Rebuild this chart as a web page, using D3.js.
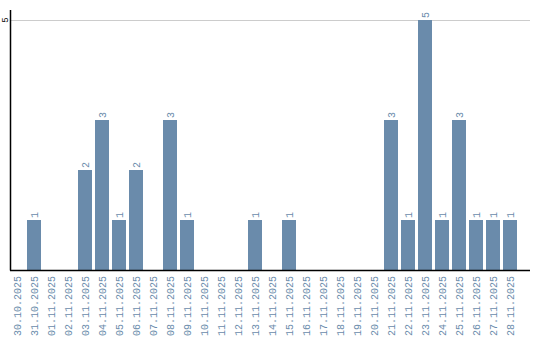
<!DOCTYPE html>
<html>
<head>
<meta charset="utf-8">
<script src="https://cdn.jsdelivr.net/npm/d3@7"></script>
<style>
  body { margin: 0; background: #fff; }
  svg text { font-family: "Liberation Mono", "DejaVu Sans Mono", monospace; }
</style>
</head>
<body>
<div id="chart"></div>
<script>
var width = 540, height = 340;

var days = ["30.10.2025","31.10.2025","01.11.2025","02.11.2025","03.11.2025","04.11.2025",
    "05.11.2025","06.11.2025","07.11.2025","08.11.2025","09.11.2025","10.11.2025",
    "11.11.2025","12.11.2025","13.11.2025","14.11.2025","15.11.2025","16.11.2025",
    "17.11.2025","18.11.2025","19.11.2025","20.11.2025","21.11.2025","22.11.2025",
    "23.11.2025","24.11.2025","25.11.2025","26.11.2025","27.11.2025","28.11.2025"];
var counts = [0,1,0,0,2,3,1,2,0,3,1,0,0,0,1,0,1,0,0,0,0,0,3,1,5,1,3,1,1,1];
var yTicks = [5];

var barColor = '#6a8bab';

var svg = d3.select('#chart').append('svg')
    .attr('width', width)
    .attr('height', height);

var x = d3.scaleBand()
    .domain(days)
    .range([8.5, 518.5])
    .paddingInner(3/17)
    .paddingOuter(3/34);

var y = d3.scaleLinear()
    .domain([0, 5])
    .range([270, 20]);

// grid line
svg.selectAll('.grid')
    .data(yTicks)
    .enter().append('line')
    .attr('x1', 11).attr('x2', 530)
    .attr('y1', function(d){ return y(d) + 0.5; })
    .attr('y2', function(d){ return y(d) + 0.5; })
    .attr('stroke', '#cccccc')
    .attr('stroke-width', 1);

svg.selectAll('.bar')
    .data(days)
    .enter().append('rect')
    .attr('x', function(d){ return x(d); })
    .attr('width', x.bandwidth())
    .attr('y', function(d, i){ return y(counts[i]); })
    .attr('height', function(d, i){ return y(0) - y(counts[i]); })
    .attr('fill', barColor);

// value labels
svg.selectAll('.val')
    .data(days.filter(function(d, i){ return counts[i] > 0; }))
    .enter().append('text')
    .attr('transform', function(d){
        var v = counts[days.indexOf(d)];
        return 'translate(' + (x(d) + x.bandwidth()/2 + 3.5) + ',' + (y(v) - 2) + ') rotate(-90)';
    })
    .attr('font-size', '10px')
    .attr('fill', barColor)
    .text(function(d){ return counts[days.indexOf(d)]; });

// x labels
svg.selectAll('.xl')
    .data(days)
    .enter().append('text')
    .attr('transform', function(d){
        return 'translate(' + (x(d) + x.bandwidth()/2 + 3.5) + ',276) rotate(-90)';
    })
    .attr('text-anchor', 'end')
    .attr('font-size', '10px')
    .attr('fill', barColor)
    .text(function(d){ return d; });

// y tick label
svg.selectAll('.yl')
    .data(yTicks)
    .enter().append('text')
    .attr('transform', function(d){ return 'translate(8,' + y(d) + ') rotate(-90)'; })
    .attr('text-anchor', 'middle')
    .attr('font-size', '9px')
    .attr('fill', '#000')
    .text(function(d){ return d; });

// axes lines
svg.append('line')
    .attr('x1', 10.5).attr('x2', 10.5)
    .attr('y1', 10).attr('y2', 270.5)
    .attr('stroke', '#000').attr('stroke-width', 1.5);
svg.append('line')
    .attr('x1', 10).attr('x2', 530)
    .attr('y1', 270.5).attr('y2', 270.5)
    .attr('stroke', '#000').attr('stroke-width', 1.5);
</script>
</body>
</html>
